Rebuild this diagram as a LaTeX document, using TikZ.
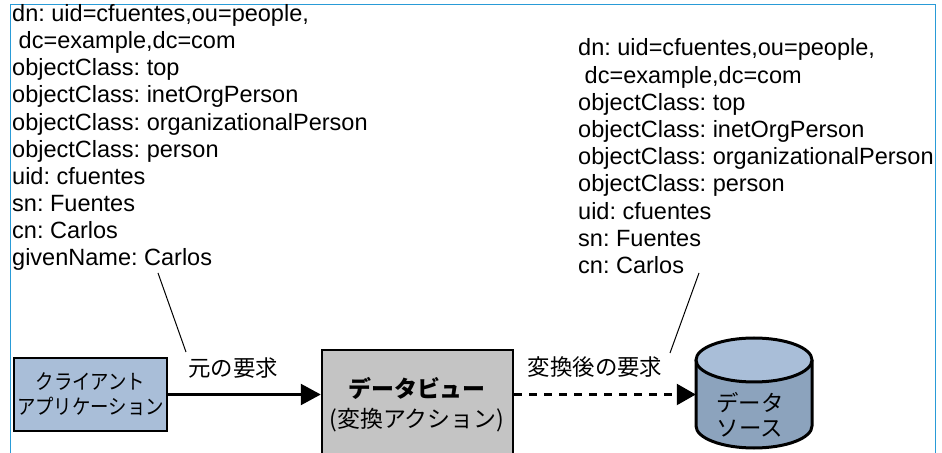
\documentclass[tikz,border=0pt]{standalone}
\usepackage{fontspec}
\setmainfont{Liberation Sans}
\newfontfamily\jp{Noto Sans CJK JP}
\newfontfamily\jpn{Noto Sans CJK JP}[FakeStretch=0.88]
\usetikzlibrary{arrows.meta}
\definecolor{framec}{RGB}{41,155,215}
\definecolor{clfill}{RGB}{169,190,216}
\definecolor{dvfill}{RGB}{196,196,196}
\definecolor{cyltop}{RGB}{169,190,216}
\definecolor{cylbody}{RGB}{140,163,189}
\frenchspacing
\begin{document}
\begin{tikzpicture}[x=1bp,y=-1bp,
  ldif/.style={font=\frenchspacing\fontsize{23.6}{27}\selectfont, inner sep=0pt, anchor=base west},
  leader/.style={line width=1bp, black},
  lbl/.style={font=\jp\fontsize{22.5}{27}\selectfont, inner sep=0pt},
  clbox/.style={draw=black, line width=2.5bp, fill=clfill, inner sep=0pt,
    minimum width=153bp, minimum height=73bp, align=center,
    font=\jpn\fontsize{21}{25}\selectfont},
  dvbox/.style={draw=black, line width=2.5bp, fill=dvfill, inner sep=0pt,
    minimum width=191bp, minimum height=140bp},
  dvtext/.style={font=\jp\fontsize{23}{27}\selectfont, inner sep=0pt},
  dstext/.style={font=\jp\fontsize{22.5}{25}\selectfont, inner sep=0pt, align=center},
  arr/.style={line width=2.5bp, -{Triangle[length=20bp,width=21bp]}},
  darr/.style={line width=2.2bp, dash pattern=on 8bp off 7bp, -{Triangle[length=19bp,width=21bp]}},
  cylline/.style={line width=3bp, black},
  frameline/.style={line width=1bp, framec}
]
\useasboundingbox (0,0) rectangle (942,453);

% frame
\draw[frameline] (10,460) -- (10,4.7) -- (935,4.7) -- (935,460);

% LDIF entries
\foreach \t [count=\i] in {{dn: uid=cfuentes,ou=people,},{\ dc=example,dc=com},{objectClass: top},{objectClass: inetOrgPerson},{objectClass: organizationalPerson},{objectClass: person},{uid: cfuentes},{sn: Fuentes},{cn: Carlos},{givenName: Carlos}}
  \node[ldif] (L\i) at (12,{21.7+27.1*(\i-1)}) {\t};
\foreach \t [count=\i] in {{dn: uid=cfuentes,ou=people,},{\ dc=example,dc=com},{objectClass: top},{objectClass: inetOrgPerson},{objectClass: organizationalPerson},{objectClass: person},{uid: cfuentes},{sn: Fuentes},{cn: Carlos}}
  \node[ldif] (R\i) at (578,{56+27.2*(\i-1)}) {\t};

% leader lines
\coordinate (lt) at (158,273);
\coordinate (lb) at (186,352);
\coordinate (rt) at (699,273);
\coordinate (rb) at (670,353);
\draw[leader] (lt) -- (lb);
\draw[leader] (rt) -- (rb);

% request labels
\node[lbl] (req1) at (233,368) {元の要求};
\node[lbl] (req2) at (595,367) {変換後の要求};

% client application
\node[clbox] (cl) at (90.5,394.5) {クライアント\\アプリケーション};

% data view
\node[dvbox, anchor=north] (dv) at (417.5,349) {};
\node[dvtext, font=\jp\bfseries\fontsize{23}{27}\selectfont] (dvt) at (417,388) {データビュー};
\node[dvtext] (dva) at (417,420) {(変換アクション)};

% data source cylinder
\node[minimum width=116bp, minimum height=110bp, inner sep=0pt] (ds) at (754,393) {};
\fill[cylbody] (696,360) -- (696,426) arc[start angle=180, end angle=360, x radius=58bp, y radius=22bp] -- (812,360) -- cycle;
\draw[cylline] (696,360) -- (696,426) arc[start angle=180, end angle=360, x radius=58bp, y radius=22bp] -- (812,360);
\filldraw[cylline, fill=cyltop] (754,360) ellipse [x radius=58bp, y radius=22bp];
\node[dstext] (dst) at (750,414.5) {データ\\ソース};

% arrows
\draw[arr] (cl.east) -- (cl.east -| dv.west);
\draw[darr] (cl.east -| dv.east) -- (cl.east -| ds.west);
\end{tikzpicture}
\end{document}
